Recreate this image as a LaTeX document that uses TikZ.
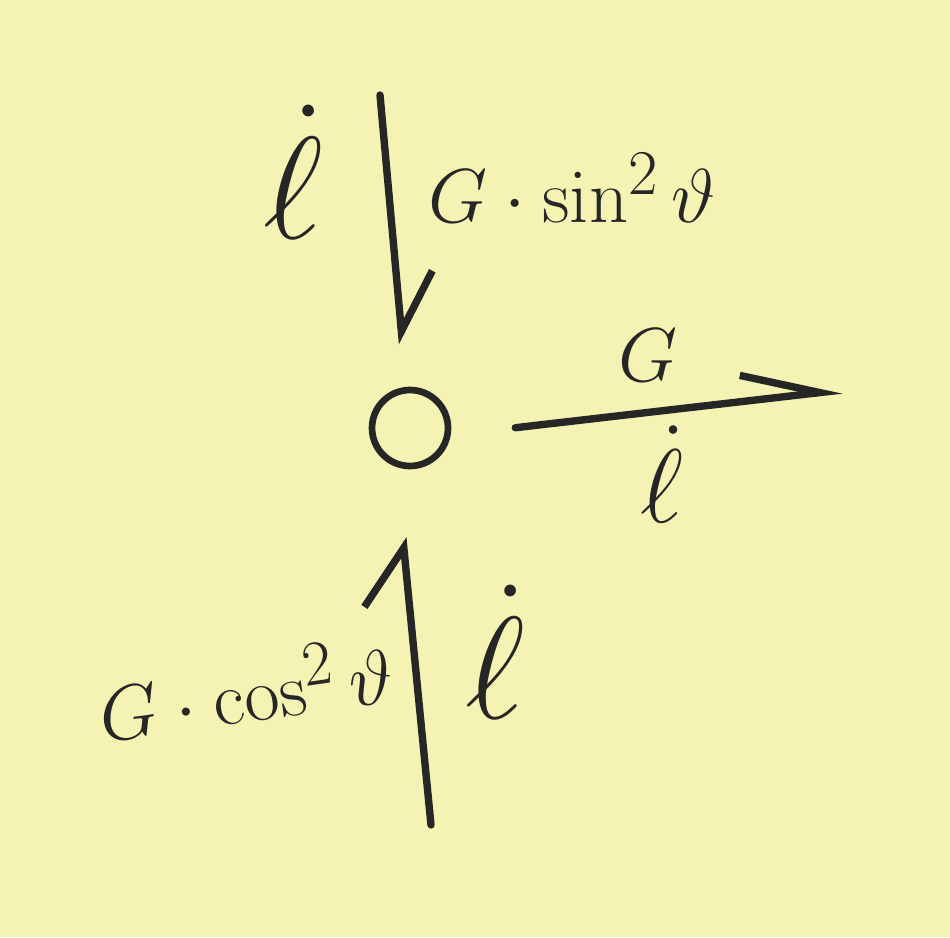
\documentclass[tikz,border=0pt]{standalone}
\usepackage{amsmath}
\usepackage{amssymb}
\usepackage{tikz}
\usepackage{xcolor}
\usetikzlibrary{arrows.meta, positioning, calc}
\definecolor{notepaper}{RGB}{245,243,180}
\definecolor{pencil}{RGB}{38,38,38}

\begin{document}
\begin{tikzpicture}[x=0.02cm, y=-0.02cm,
  ink/.style={draw=pencil, line width=4.2pt, line cap=round, line join=round},
  lbl/.style={text=pencil, inner sep=0pt, font=\Huge, scale=1.75},
  ldot/.style={lbl, scale=1.9}]
% paper
\fill[notepaper] (0,0) rectangle (950,937);
\useasboundingbox (0,0) rectangle (950,937);

% the point O
\node[ink, line width=3.8pt, circle, minimum size=1.52cm, inner sep=0pt] (O) at (410,428) {};

% free ends of the three arrows
\coordinate (topend) at (380,95);
\coordinate (rightend) at (842,390);
\coordinate (botend) at (431,825);

% arrows (one barb each)
\draw[ink, -{Straight Barb[left, length=1.15cm, width=1.45cm]}, shorten >=0.86cm]
  (topend) -- (O.95);
\draw[ink, -{Straight Barb[left, length=1.55cm, width=1.05cm]}, shorten <=1.3cm]
  (O.-10) -- (rightend);
\draw[ink, -{Straight Barb[left, length=1.1cm, width=1.8cm]}, shorten >=1.42cm]
  (botend) -- (O.250);

% labels
\node[ldot] (ltop) at (293,172) {$\dot{\ell}$};
\node[lbl] (gsin) at (572,188) {$G\cdot\sin^2\vartheta$};
\node[lbl] (gright) at (648,355) {$G$};
\node[ldot, scale=0.72] (lright) at (662,474) {$\dot{\ell}$};
\node[lbl, rotate=8] (gcos) at (245,688) {$G\cdot\cos^2\vartheta$};
\node[ldot] (lbot) at (495,652) {$\dot{\ell}$};
\end{tikzpicture}
\end{document}
